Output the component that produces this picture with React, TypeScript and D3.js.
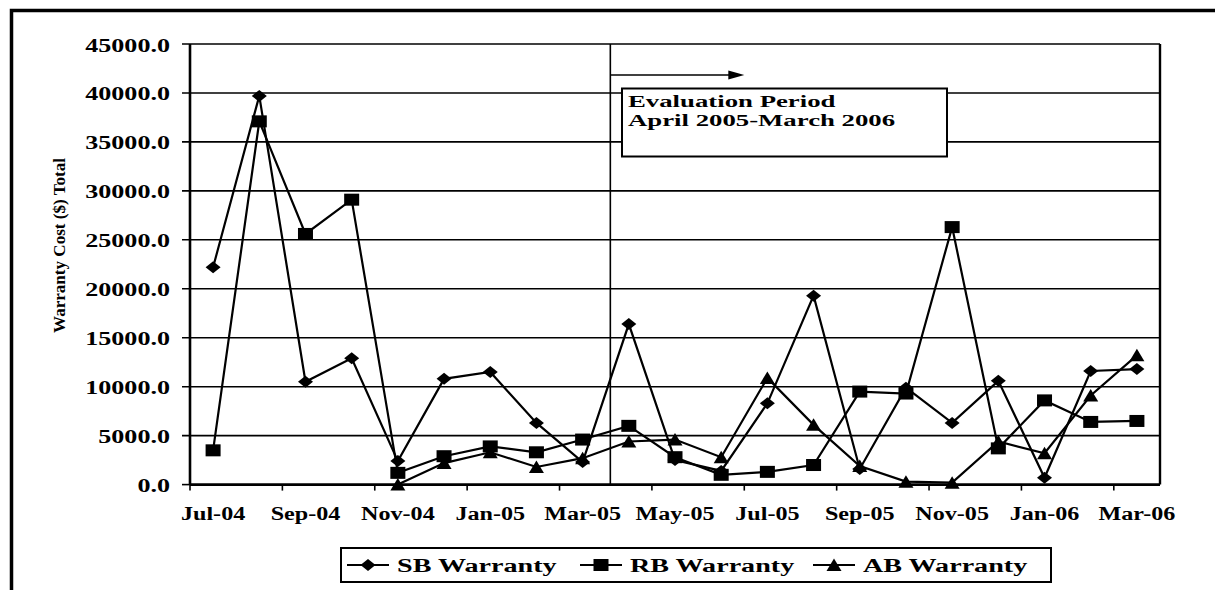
import React from 'react';
import * as d3 from 'd3';

// months on the category axis, Jul-04 .. Mar-06
const months = [
  'Jul-04', 'Aug-04', 'Sep-04', 'Oct-04', 'Nov-04', 'Dec-04', 'Jan-05',
  'Feb-05', 'Mar-05', 'Apr-05', 'May-05', 'Jun-05', 'Jul-05', 'Aug-05',
  'Sep-05', 'Oct-05', 'Nov-05', 'Dec-05', 'Jan-06', 'Feb-06', 'Mar-06',
];
const yTicks = [0, 5000, 10000, 15000, 20000, 25000, 30000, 35000, 40000, 45000];

const sbWarranty = [22200, 39700, 10500, 12900, 2400, 10800, 11500, 6300, 2300, 16400, 2500,
  1400, 8300, 19300, 1600, 9900, 6300, 10600, 700, 11600, 11800];
const rbWarranty = [3500, 37100, 25600, 29100, 1200, 2900, 3900, 3300, 4600, 6000, 2800,
  1000, 1300, 2000, 9500, 9300, 26300, 3700, 8600, 6400, 6500];
const abWarranty = [null, null, null, null, 0, 2200, 3300, 1800, 2700, 4400, 4600,
  2800, 10900, 6100, 1900, 300, 200, 4400, 3200, 9100, 13200];

const seriesNames = ['SB Warranty', 'RB Warranty', 'AB Warranty'];
const evalStart = 'Apr-05';
const evalText = ['Evaluation Period', 'April 2005-March 2006'];

const FONT = '"Liberation Serif", "Times New Roman", serif';

const x = d3.scaleBand<string>().domain(months).range([190, 1160]);
const y = d3.scaleLinear().domain([0, 45000]).range([484.6, 44]);
const cx = (m: string) => (x(m) as number) + x.bandwidth() / 2;

const shapes = ['diamond', 'square', 'triangle'];

function Marker({ shape, px, py }: { shape: string; px: number; py: number }) {
  if (shape === 'diamond')
    return <path d={`M${px},${py - 6}L${px + 7.5},${py}L${px},${py + 6}L${px - 7.5},${py}Z`} fill="#000" />;
  if (shape === 'square')
    return <rect x={px - 7.5} y={py - 6} width={15} height={12} fill="#000" />;
  return <path d={`M${px},${py - 6.5}L${px + 7.5},${py + 6}L${px - 7.5},${py + 6}Z`} fill="#000" />;
}

// horizontally stretched text, like the original picture
function SText({ x0, y0, sx, size, anchor = 'start', children }: any) {
  return (
    <text transform={`translate(${x0},${y0}) scale(${sx},1)`} fontFamily={FONT} fontWeight="bold"
      fontSize={size} textAnchor={anchor} fill="#000">{children}</text>
  );
}

export default function App() {
  const series = [sbWarranty, rbWarranty, abWarranty];
  const line = d3.line<number | null>()
    .defined(d => d != null)
    .x((d, i) => cx(months[i]))
    .y(d => y(d as number));

  const xe = (x(evalStart) as number) + x.bandwidth() * 0.1;
  const bottom = y(0);

  return (
    <svg width={1215} height={590} style={{ position: 'absolute', left: 0, top: 0, background: '#fff' }}>
      {/* outer frame */}
      <path d="M11.5,590V10.5H1215" fill="none" stroke="#000" strokeWidth={3.5} />

      {/* gridlines + y ticks */}
      {yTicks.map(t => (
        <g key={t}>
          {t > 0 && <line x1={182} x2={1160} y1={y(t)} y2={y(t)} stroke="#000" strokeWidth={1.6} />}
          {t === 0 && <line x1={182} x2={190} y1={y(t)} y2={y(t)} stroke="#000" strokeWidth={1.6} />}
          <SText x0={170} y0={y(t) + 7.5} sx={1.45} size={18} anchor="end">{t.toFixed(1)}</SText>
        </g>
      ))}

      {/* axes */}
      <line x1={190} x2={190} y1={44} y2={bottom} stroke="#000" strokeWidth={2.6} />
      <line x1={1160} x2={1160} y1={44} y2={bottom} stroke="#000" strokeWidth={2.4} />
      <line x1={190} x2={1160} y1={bottom} y2={bottom} stroke="#000" strokeWidth={2.6} />
      {months.map((m, i) => i % 2 === 0 ? (
        <g key={m}>
          <line x1={x(m)} x2={x(m)} y1={bottom} y2={bottom + 6} stroke="#000" strokeWidth={1.6} />
          <SText x0={cx(m)} y0={520} sx={1.27} size={19} anchor="middle">{m}</SText>
        </g>
      ) : null)}

      {/* y title */}
      <text transform="translate(65,245.5) rotate(-90) scale(1,1.35)" fontFamily={FONT} fontWeight="bold"
        fontSize={13} textAnchor="middle" textLength={175} lengthAdjust="spacingAndGlyphs">
        Warranty Cost ($) Total
      </text>

      {/* evaluation period marker */}
      <line x1={xe} x2={xe} y1={44} y2={bottom} stroke="#000" strokeWidth={1.6} />
      <line x1={xe} x2={xe + 120} y1={75} y2={75} stroke="#000" strokeWidth={1.6} />
      <path d={`M${xe + 134},75L${xe + 118},70.5L${xe + 118},79.5Z`} fill="#000" />
      <rect x={622} y={88.5} width={325} height={68} fill="#fff" stroke="#000" strokeWidth={2} />
      {evalText.map((t, i) => (
        <SText key={t} x0={628} y0={106.7 + i * 19.5} sx={1.53} size={17.5}>{t}</SText>
      ))}

      {/* series */}
      {series.map((vals, s) => (
        <g key={seriesNames[s]}>
          <path d={line(vals) as string} fill="none" stroke="#000" strokeWidth={2.2} />
          {vals.map((v, i) => v == null ? null : (
            <Marker key={i} shape={shapes[s]} px={cx(months[i])} py={y(v)} />
          ))}
        </g>
      ))}

      {/* legend */}
      <rect x={341} y={548} width={710} height={34} fill="#fff" stroke="#000" strokeWidth={2} />
      {seriesNames.map((n, i) => {
        const lx = 347 + i * 233;
        return (
          <g key={n}>
            <line x1={lx} x2={lx + 42} y1={565} y2={565} stroke="#000" strokeWidth={2.2} />
            <Marker shape={shapes[i]} px={lx + 21} py={565} />
            <SText x0={lx + 50} y0={571.5} sx={1.48} size={19}>{n}</SText>
          </g>
        );
      })}
    </svg>
  );
}
